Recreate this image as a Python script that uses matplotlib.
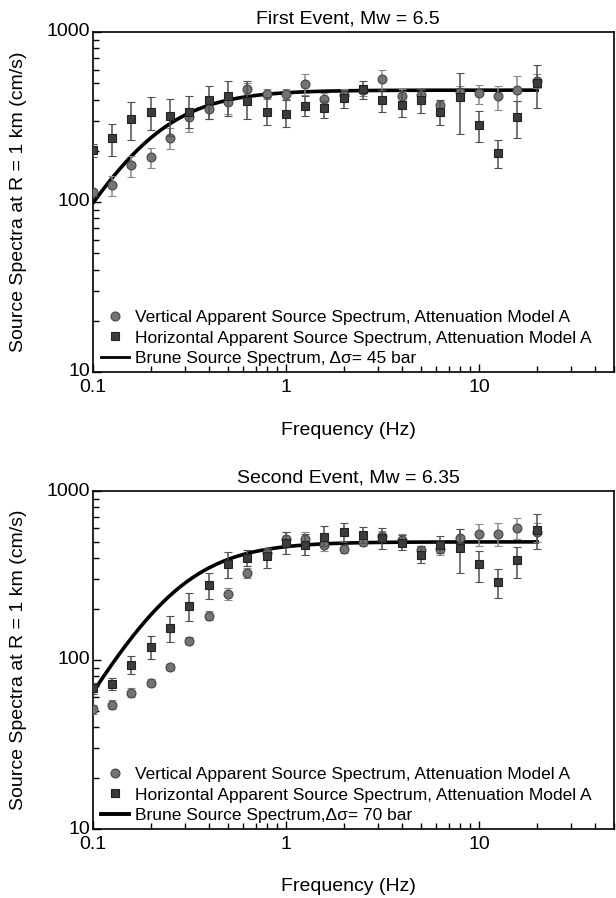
import matplotlib.pyplot as plt
import matplotlib.transforms as mtransforms
import numpy as np

plt.rcParams['font.family'] = ['Liberation Sans', 'DejaVu Sans']

# frecuencias (Hz), 10 puntos por decada
freqs = [0.1, 0.126, 0.158, 0.2, 0.251, 0.316, 0.398, 0.501, 0.631, 0.794, 1.0, 1.26,
         1.58, 2.0, 2.51, 3.16, 3.98, 5.01, 6.31, 7.94, 10.0, 12.6, 15.8, 20.0]

# Primer evento (Mw 6.5)
v1 = [114, 126, 164, 183, 238, 317, 353, 388, 462, 434, 434, 494,
      406, 428, 455, 529, 419, 428, 374, 442, 438, 419, 458, 517]
v1_lo = [108, 109, 141, 158, 204, 258, 306, 330, 430, 405, 405, 428,
         375, 400, 420, 458, 380, 400, 345, 410, 379, 350, 391, 470]
v1_hi = [120, 143, 187, 209, 273, 357, 400, 440, 500, 465, 465, 566,
         440, 460, 490, 600, 460, 460, 400, 480, 490, 483, 548, 570]
h1 = [201, 237, 309, 337, 320, 339, 399, 419, 395, 337, 331, 369,
      356, 409, 462, 397, 373, 400, 337, 413, 285, 193, 315, 501]
h1_lo = [185, 187, 231, 264, 244, 273, 306, 320, 309, 282, 276, 320,
         313, 358, 404, 337, 315, 335, 282, 250, 224, 158, 239, 358]
h1_hi = [218, 286, 386, 413, 404, 419, 483, 512, 512, 413, 400, 419,
         391, 458, 512, 458, 448, 462, 400, 573, 345, 231, 391, 641]

# Segundo evento (Mw 6.35)
v2 = [51, 54, 64, 73, 91, 130, 183, 245, 326, 430, 518, 518,
      479, 454, 501, 540, 513, 448, 452, 525, 557, 555, 602, 575]
v2_lo = [48, 51, 60, 70, 87, 124, 172, 225, 305, 400, 470, 470,
         440, 430, 470, 500, 470, 420, 420, 470, 473, 470, 520, 500]
v2_hi = [54, 58, 68, 77, 95, 137, 195, 265, 350, 460, 570, 570,
         530, 480, 530, 580, 560, 475, 485, 593, 638, 650, 690, 650]
h2 = [68, 72, 94, 120, 155, 209, 278, 370, 400, 414, 495, 479,
      537, 574, 549, 525, 495, 418, 479, 462, 370, 288, 391, 588]
h2_lo = [63, 66, 83, 101, 127, 169, 229, 304, 360, 349, 424, 420,
         470, 501, 490, 454, 450, 373, 430, 326, 291, 232, 304, 452]
h2_hi = [73, 78, 105, 139, 182, 248, 329, 437, 450, 458, 570, 560,
         620, 644, 610, 602, 550, 473, 540, 593, 442, 345, 465, 728]

# Modelo de Brune: meseta (cm/s) y frecuencia de esquina (Hz)
plateau1, fc1 = 455, 0.19
plateau2, fc2 = 500, 0.26

titles = ["First Event, Mw = 6.5", "Second Event, Mw = 6.35"]
brune_labels = ["Brune Source Spectrum, Δσ= 45 bar", "Brune Source Spectrum,Δσ= 70 bar"]

fig = plt.figure(figsize=(6.16, 8.98), dpi=100)
ax1 = fig.add_axes([93/616, 1 - 372/898, 521/616, 340/898])
ax2 = fig.add_axes([93/616, 1 - 829/898, 521/616, 338/898])

datasets = [(ax1, v1, v1_lo, v1_hi, h1, h1_lo, h1_hi, plateau1, fc1, 2.0),
            (ax2, v2, v2_lo, v2_hi, h2, h2_lo, h2_hi, plateau2, fc2, 2.8)]

f = np.array(freqs)
fm = np.logspace(-1, np.log10(20), 300)
shift_up = mtransforms.ScaledTranslation(0, 2/100, fig.dpi_scale_trans)

for i, (ax, v, vlo, vhi, h, hlo, hhi, P, fc, lw_leg) in enumerate(datasets):
    v = np.array(v); h = np.array(h)
    brune = P * (fm / fc)**2 / (1 + (fm / fc)**2)
    ax.plot(fm, brune, color='black', linewidth=2.6, zorder=2)
    ax.errorbar(f, v, yerr=[v - np.array(vlo), np.array(vhi) - v], fmt='o',
                ms=6.4, mfc='#747474', mec='#444444', mew=0.8,
                ecolor='#8a8a8a', elinewidth=1.1, capsize=3.2, capthick=1.1, zorder=3)
    ax.errorbar(f, h, yerr=[h - np.array(hlo), np.array(hhi) - h], fmt='s',
                ms=6.0, mfc='#3c3c3c', mec='#222222', mew=0.8,
                ecolor='#505050', elinewidth=1.1, capsize=3.2, capthick=1.1, zorder=4)

    ax.set_xscale('log')
    ax.set_yscale('log')
    ax.set_xlim(0.1, 50)
    ax.set_ylim(10, 1000)
    ax.set_xticks([0.1, 1, 10])
    ax.set_xticklabels(["0.1", "1", "10"])
    ax.set_yticks([10, 100, 1000])
    ax.set_yticklabels(["10", "100", "1000"])
    ax.tick_params(which='both', direction='in', top=False, right=False, labelsize=14)
    ax.tick_params(axis='x', pad=5)
    ax.tick_params(axis='y', pad=2)
    ax.tick_params(which='major', length=6, width=1)
    ax.tick_params(which='minor', length=4, width=1)
    for lab in ax.get_yticklabels():
        lab.set_transform(lab.get_transform() + shift_up)
    for s in ax.spines.values():
        s.set_linewidth(1.2)

    ax.text(0.49, 1.037, titles[i], transform=ax.transAxes, ha='center', va='center', fontsize=14)
    ax.set_xlabel("Frequency (Hz)", fontsize=14)
    ax.xaxis.label.set_va('center')
    ax.xaxis.set_label_coords(0.49, -0.171)
    ax.set_ylabel("Source Spectra at R = 1 km (cm/s)", fontsize=14)
    ax.yaxis.label.set_va('center')
    ax.yaxis.set_label_coords(-0.143, 0.5)

    handles = [plt.Line2D([], [], marker='o', ls='none', ms=6.4, mfc='#747474', mec='#444444', mew=0.8),
               plt.Line2D([], [], marker='s', ls='none', ms=6.0, mfc='#3c3c3c', mec='#222222', mew=0.8),
               plt.Line2D([], [], color='black', lw=lw_leg)]
    labels = ["Vertical Apparent Source Spectrum, Attenuation Model A",
              "Horizontal Apparent Source Spectrum, Attenuation Model A",
              brune_labels[i]]
    ax.legend(handles, labels, loc='lower left', bbox_to_anchor=(0.015, 0.018), frameon=False,
              fontsize=12.5, handlelength=1.6, handletextpad=0.35, labelspacing=0.3,
              borderpad=0, borderaxespad=0)

fig.savefig("out.png", dpi=100)
